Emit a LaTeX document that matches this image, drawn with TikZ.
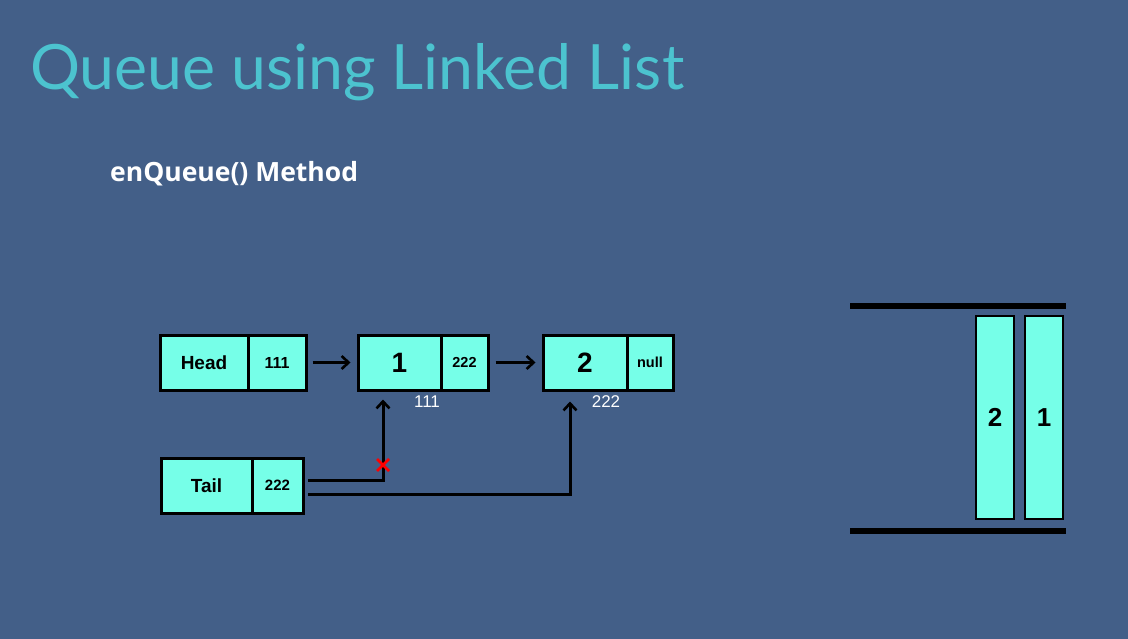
\documentclass[tikz,border=0pt]{standalone}
\usepackage{fontspec}
\setmainfont{Liberation Sans}
\newfontfamily\titlefont{Lato}
\newfontfamily\subfont{Open Sans}
\usetikzlibrary{arrows.meta}
\definecolor{slide}{HTML}{435F88}
\definecolor{cellfill}{HTML}{76FFE8}
\definecolor{titlecol}{HTML}{4CC3CF}
\tikzset{
  cell/.style={draw=black, line width=3pt, fill=cellfill, minimum height=55pt, inner sep=0pt, font=\bfseries},
  link/.style={line width=3pt, -{Straight Barb[length=7pt,width=13pt,line width=2.6pt]}},
  addr/.style={text=white, font=\fontsize{17}{17}\selectfont}
}
\begin{document}
\begin{tikzpicture}[x=1pt,y=-1pt]
\useasboundingbox (0,0) rectangle (1128,639);
\fill[slide] (0,0) rectangle (1128,639);

\node[anchor=base west, text=titlecol, inner sep=0pt] (title) at (30,90)
  {\titlefont\fontsize{62.5}{62.5}\selectfont Queue using Linked List};
\node[anchor=base west, text=white, inner sep=0pt] (sub) at (110,182)
  {\subfont\bfseries\fontsize{26.5}{26.5}\selectfont enQueue() Method};

% head and tail
\node[cell, minimum width=88pt, font=\bfseries\fontsize{19}{19}\selectfont] (head) at (204,362.5) {Head};
\node[cell, minimum width=58pt, font=\bfseries\fontsize{16}{16}\selectfont] (headp) at (277,362.5) {111};
\node[cell, minimum width=91pt, font=\bfseries\fontsize{19}{19}\selectfont] (tail) at (206.5,485.5) {Tail};
\node[cell, minimum width=51pt, font=\bfseries\fontsize{15}{15}\selectfont] (tailp) at (277.5,485.5) {222};

% list nodes
\node[cell, minimum width=83pt, font=\bfseries\fontsize{28}{28}\selectfont] (one) at (399.5,362.5) {1};
\node[cell, minimum width=47pt, font=\bfseries\fontsize{14.5}{14.5}\selectfont] (onep) at (464.5,362.5) {222};
\node[cell, minimum width=84pt, font=\bfseries\fontsize{28}{28}\selectfont] (two) at (585,362.5) {2};
\node[cell, minimum width=46pt, font=\bfseries\fontsize{14.5}{14.5}\selectfont] (twop) at (650,362.5) {null};

\node[addr] (aone) at (427,402) {111};
\node[addr] (atwo) at (606,402) {222};

\draw[link] ([xshift=5pt]headp.east) -- ([xshift=-6pt]one.west);
\draw[link] ([xshift=6pt]onep.east) -- ([xshift=-6pt]two.west);

\coordinate (t1) at (308,480);
\coordinate (t2) at (308,494);
\draw[link] (t1) -| ([xshift=-16.5pt,yshift=-8pt]one.south);
\draw[link] (t2) -| ([xshift=-15pt,yshift=-10pt]two.south);

% old link crossed out
\coordinate (cut) at (383,465);
\draw[red, line width=2.8pt] (cut) +(-6,-6) -- +(6,6);
\draw[red, line width=2.8pt] (cut) +(-6,6) -- +(6,-6);

% queue picture
\draw[line width=6pt] (850,306) -- (1066,306);
\draw[line width=6pt] (850,531) -- (1066,531);
\node[cell, line width=1.3pt, minimum width=38pt, minimum height=203pt, font=\bfseries\fontsize{26}{26}\selectfont] (qtwo) at (995,417.5) {2};
\node[cell, line width=1.3pt, minimum width=38pt, minimum height=203pt, font=\bfseries\fontsize{26}{26}\selectfont] (qone) at (1044,417.5) {1};
\end{tikzpicture}
\end{document}
